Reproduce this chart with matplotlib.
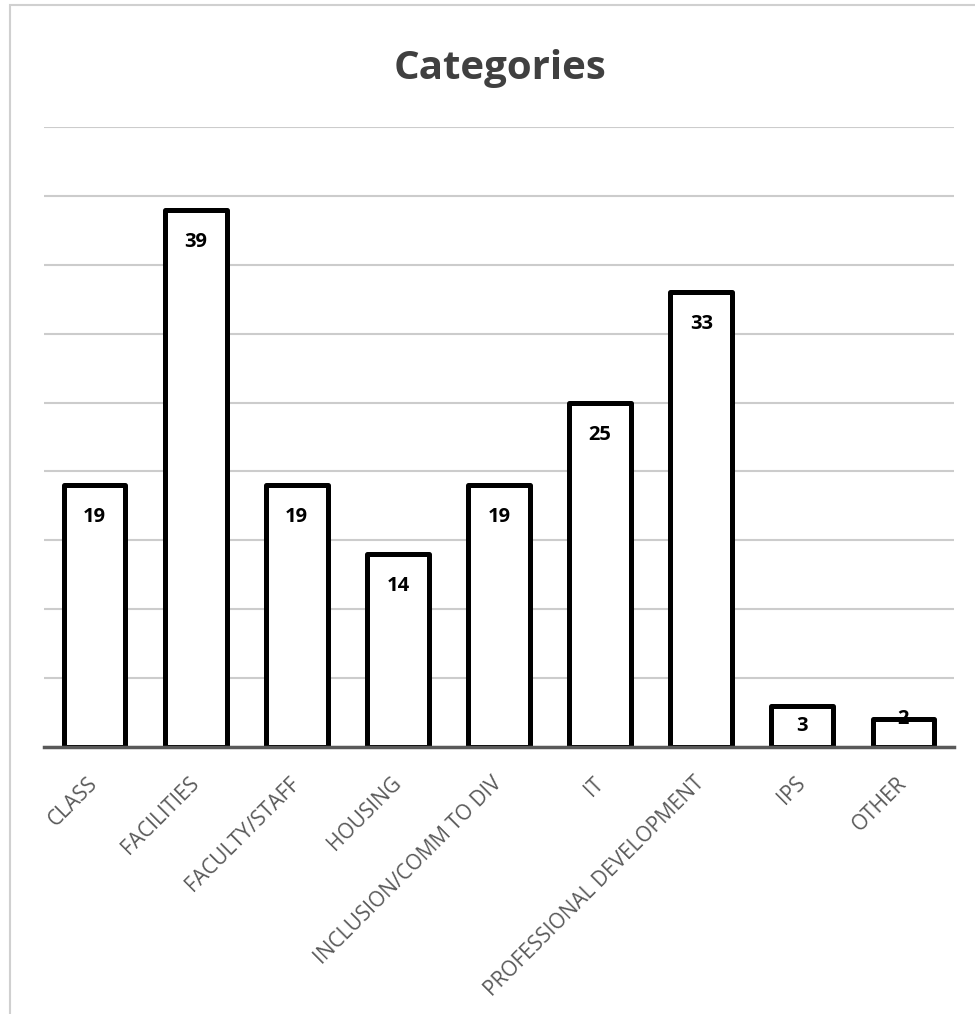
import matplotlib.pyplot as plt
from matplotlib.patches import Rectangle

categories = ["CLASS", "FACILITIES", "FACULTY/STAFF", "HOUSING", "INCLUSION/COMM TO DIV",
              "IT", "PROFESSIONAL DEVELOPMENT", "IPS", "OTHER"]
counts = [19, 39, 19, 14, 19, 25, 33, 3, 2]
y_ticks = [0, 5, 10, 15, 20, 25, 30, 35, 40, 45]

plt.rcParams['font.family'] = ['Open Sans', 'DejaVu Sans']

fig = plt.figure(figsize=(9.75, 10.14), dpi=100)
ax = fig.add_axes([44 / 975, 1 - 747 / 1014, 910 / 975, 620 / 1014])

# light frame around the chart area (runs off the right and bottom edges)
fig.patches.append(Rectangle((10 / 975, -0.1), 1.2, 1 - 5 / 1014 + 0.1, transform=fig.transFigure,
                             fill=False, edgecolor='#d0d0d0', linewidth=1.5))

x = range(len(categories))
bars = ax.bar(x, counts, width=0.61, color='white', edgecolor='black', linewidth=3.6, zorder=3)
for b in bars:
    b.set_joinstyle('round')

ax.set_xlim(-0.5, len(categories) - 0.5)
ax.set_ylim(0, 45)
ax.set_yticks(y_ticks)
ax.yaxis.grid(True, color='#cccccc', linewidth=1.5, zorder=0)
ax.tick_params(axis='y', left=False, labelleft=False)
for side in ['top', 'right', 'left']:
    ax.spines[side].set_visible(False)
ax.spines['bottom'].set_color('#595959')
ax.spines['bottom'].set_linewidth(2.5)
ax.spines['bottom'].set_zorder(4)

ax.set_xticks(list(x))
ax.set_xticklabels(categories, rotation=45, ha='right', va='center', rotation_mode='anchor',
                   fontsize=15, color='#595959')
ax.tick_params(axis='x', length=0, pad=24)

# data labels inside the top of each bar
px_per_unit = 620 / 45
for i, v in enumerate(counts):
    h = v * px_per_unit
    off = min(32, h / 2)
    if h / 2 < 15:
        off = 0
    ax.annotate(str(v), (i, v), xytext=(0, -off * 0.72), textcoords='offset points',
                ha='center', va='center', fontsize=14.5, fontweight='bold', color='black', zorder=5)

fig.text(0.513, 1 - 68 / 1014, "Categories", ha='center', va='center',
         fontsize=29, fontweight='bold', color='#404040')

fig.savefig('out.png', dpi=100, facecolor='white')
